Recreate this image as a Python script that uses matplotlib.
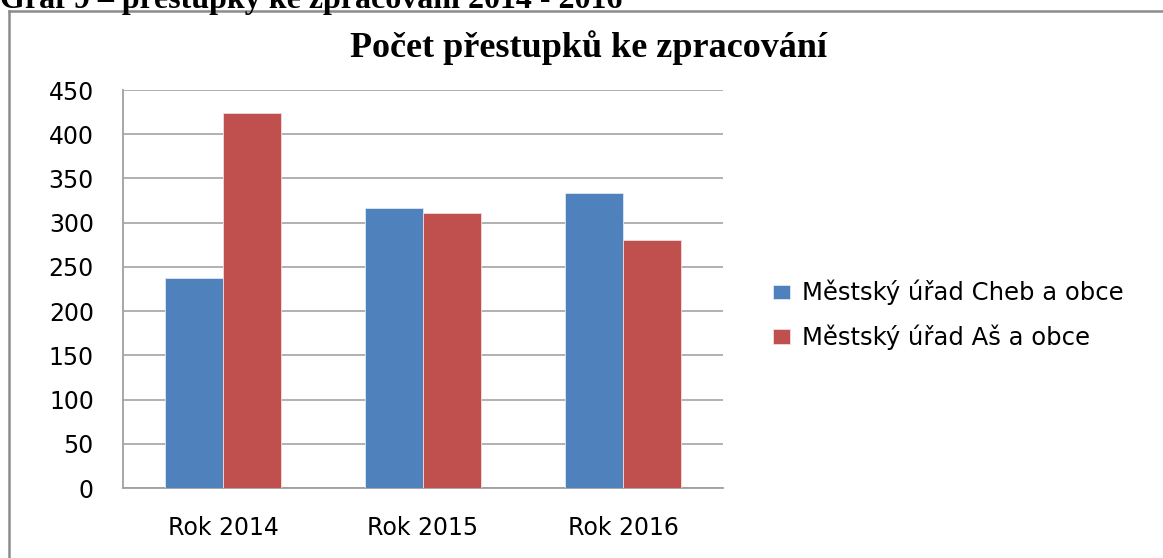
import matplotlib
matplotlib.use("Agg")
import matplotlib.pyplot as plt
from matplotlib.lines import Line2D
import numpy as np

categories = ["Rok 2014", "Rok 2015", "Rok 2016"]
series_names = ["Městský úřad Cheb a obce", "Městský úřad Aš a obce"]
cheb = [238, 317, 334]
as_obce = [424, 311, 280]
yticks = [0, 50, 100, 150, 200, 250, 300, 350, 400, 450]
chart_title = "Počet přestupků ke zpracování"
header = "Graf 9 – přestupky ke zpracování 2014 - 2016"

W, H = 1163, 558
fig = plt.figure(figsize=(W / 100, H / 100), dpi=100)
fig.patch.set_facecolor("white")

ax = fig.add_axes([123 / W, 1 - 488 / H, 600 / W, 398 / H])

x = np.arange(len(categories))
bw = 0.29
ax.bar(x - bw / 2, cheb, bw, color="#4F81BD", edgecolor="#dfe8f3", linewidth=0.6,
       label=series_names[0], zorder=3)
ax.bar(x + bw / 2, as_obce, bw, color="#C0504D", edgecolor="#f2dcdb", linewidth=0.6,
       label=series_names[1], zorder=3)

ax.set_xlim(-0.5, 2.5)
ax.set_ylim(0, 450)
ax.set_yticks(yticks)
ax.set_yticklabels([str(v) for v in yticks])
ax.set_xticks(x)
ax.set_xticklabels(categories)
ax.yaxis.grid(True, color="#ababab", linewidth=1.3, zorder=0)
ax.set_axisbelow(True)
for s in ["top", "right"]:
    ax.spines[s].set_visible(False)
for s in ["left", "bottom"]:
    ax.spines[s].set_color("#a0a0a0")
    ax.spines[s].set_linewidth(1.3)
ax.tick_params(axis="both", length=0, labelsize=17, colors="#000000")
ax.tick_params(axis="y", pad=21)
ax.tick_params(axis="x", pad=20)
for lab in ax.get_xticklabels() + ax.get_yticklabels():
    lab.set_fontfamily("DejaVu Sans")

# Chart title
fig.text(589 / W, 1 - 48 / H, chart_title, ha="center", va="center",
         fontsize=26, fontweight="bold", family="Liberation Serif")

# Header text (cut off at the top edge, as in the reference)
fig.text(0 / W, 1 - 8 / H, header, ha="left", va="baseline",
         fontsize=23, fontweight="bold", family="Liberation Serif")

# Outer frame
fig.add_artist(Line2D([9 / W, 9 / W], [0, 1 - 11 / H], transform=fig.transFigure,
                      color="#8c8c8c", linewidth=1.8))
fig.add_artist(Line2D([9 / W, 1], [1 - 11 / H, 1 - 11 / H], transform=fig.transFigure,
                      color="#8c8c8c", linewidth=1.8))

leg = fig.legend(loc="center left", bbox_to_anchor=(773 / W, 1 - 315 / H),
                 frameon=False, fontsize=17.5, handlelength=0.68, handleheight=0.53,
                 handletextpad=0.5, labelspacing=0.8, borderaxespad=0, borderpad=0)
for t in leg.get_texts():
    t.set_fontfamily("DejaVu Sans")

fig.savefig("out.png", dpi=100, facecolor="white")
